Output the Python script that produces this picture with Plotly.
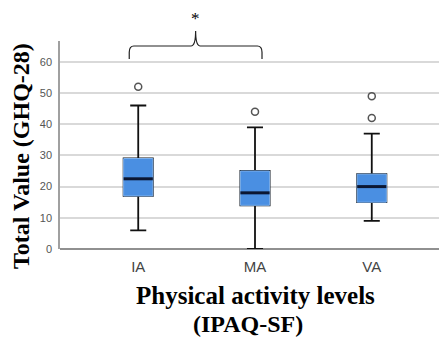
import plotly.graph_objects as go

categories = ["IA", "MA", "VA"]
q1 = [17, 14, 15]
median = [22.5, 18, 20]
q3 = [29, 25, 24]
lower = [6, 0, 9]
upper = [46, 39, 37]
outlier_x = ["IA", "MA", "VA", "VA"]
outlier_y = [52, 44, 49, 42]
y_ticks = [0, 10, 20, 30, 40, 50, 60]

W, H = 447, 339
ML, MR, MT, MB = 52, 5, 33, 98
XR = [-0.67, 2.67]
YR = [0, 66.67]

fig = go.Figure()
fig.add_trace(go.Box(
    x=categories, q1=q1, median=median, q3=q3,
    lowerfence=lower, upperfence=upper,
    fillcolor="#4a8fe2", line=dict(color="#111111", width=1.8),
    width=0.25, whiskerwidth=0.55, boxpoints=False, showlegend=False,
))
fig.add_trace(go.Scatter(
    x=outlier_x, y=outlier_y, mode="markers",
    marker=dict(symbol="circle-open", size=7, color="#555555", line=dict(width=1.5)),
    showlegend=False,
))

pw = W - ML - MR
ph = H - MT - MB

def xp(i):
    return (i - XR[0]) / (XR[1] - XR[0])

def px2x(px):
    return (px - ML) / pw

def py2y(py):
    return (H - MB - py) / ph

shapes = []
for i in range(len(categories)):
    shapes.append(dict(type="rect", xref="x", yref="y", x0=i - 0.125, x1=i + 0.125,
                       y0=q1[i], y1=q3[i], fillcolor="#4a8fe2",
                       line=dict(color="#7fb2ee", width=1), layer="above"))
    shapes.append(dict(type="line", xref="x", yref="y", x0=i - 0.125, x1=i + 0.125,
                       y0=median[i], y1=median[i], line=dict(color="#0b1632", width=3),
                       layer="above"))

# significance bracket between IA and MA
bx0, bx1 = xp(-0.077), xp(1.06)
bc = (bx0 + bx1) / 2
yb, yh, yp = 0.913, 0.976, 1.048
r = 0.012
path = (f"M {bx0},{yb} L {bx0},{yh - 0.03} Q {bx0},{yh} {bx0 + r},{yh} "
        f"L {bc - r},{yh} Q {bc},{yh} {bc},{yp} Q {bc},{yh} {bc + r},{yh} "
        f"L {bx1 - r},{yh} Q {bx1},{yh} {bx1},{yh - 0.03} L {bx1},{yb}")
shapes.append(dict(type="path", xref="paper", yref="paper", path=path,
                   line=dict(color="#222222", width=1.2)))

title_font = dict(family="Liberation Serif", size=24, color="black")
fig.update_layout(
    width=W, height=H, margin=dict(l=ML, r=MR, t=MT, b=MB),
    plot_bgcolor="white", paper_bgcolor="white",
    shapes=shapes,
    annotations=[
        dict(text="*", xref="paper", yref="paper", x=bc, y=py2y(0), showarrow=False,
             xanchor="center", yanchor="top", borderpad=0,
             font=dict(family="Liberation Serif", size=17, color="black")),
        dict(text="<b>Total Value (GHQ-28)</b>", xref="paper", yref="paper",
             x=px2x(13), y=py2y(148), textangle=-90, showarrow=False,
             xanchor="center", yanchor="middle", borderpad=0,
             font=dict(family="Liberation Serif", size=24, color="black")),
        dict(text="<b>Physical activity levels</b>", xref="paper", yref="paper",
             x=px2x(247), y=py2y(287), showarrow=False,
             xanchor="center", yanchor="middle",
             font=dict(family="Liberation Serif", size=25, color="black")),
        dict(text="<b>(IPAQ-SF)</b>", xref="paper", yref="paper",
             x=px2x(240), y=py2y(316), showarrow=False,
             xanchor="center", yanchor="middle", font=title_font),
    ],
    xaxis=dict(range=XR, showgrid=False, showline=False, zeroline=False,
               tickfont=dict(family="Liberation Sans", size=15, color="#444444"),
               ticks="", ticklabelstandoff=7),
    yaxis=dict(range=YR, tickvals=y_ticks, showgrid=True, gridcolor="#d9d9d9", gridwidth=1.5,
               showline=True, linecolor="#a0a0a0", linewidth=1.5, zeroline=True,
               zerolinecolor="#909090", zerolinewidth=1.5,
               tickfont=dict(family="Liberation Sans", size=11, color="#555555"),
               ticks="", ticklabelstandoff=4),
)
fig.write_html("out.html")
